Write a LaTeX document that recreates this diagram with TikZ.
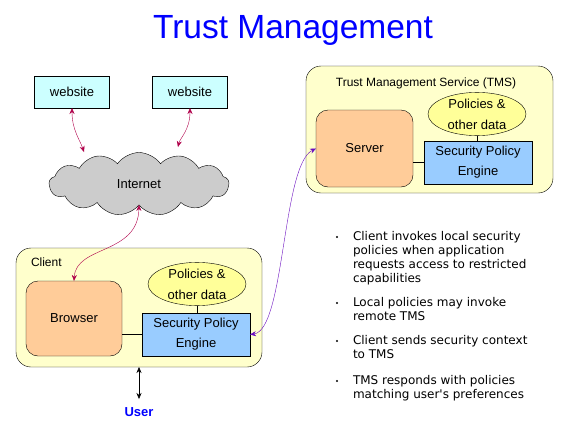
\documentclass[tikz,border=0pt]{standalone}
\usepackage{fontspec}
\setmainfont{Liberation Sans}
\newfontfamily\bulletfont{DejaVu Sans}
\usetikzlibrary{shapes.symbols,shapes.geometric,arrows.meta}
\definecolor{crim}{HTML}{B0004A}
\definecolor{purp}{HTML}{6A0DC0}
\definecolor{cyanbox}{HTML}{CCFFFF}
\definecolor{yelbox}{HTML}{FFFFCC}
\definecolor{orbox}{HTML}{FFCC99}
\definecolor{bluebox}{HTML}{99CCFF}
\definecolor{ellfill}{HTML}{FFFF99}
\definecolor{cloudfill}{HTML}{CCCCCC}
\begin{document}
\begin{tikzpicture}[x=1pt,y=-1pt,
  every node/.style={font=\fontsize{13}{15}\selectfont, inner sep=0pt, outer sep=0pt},
  webbox/.style={draw, fill=cyanbox, minimum width=75pt, minimum height=32pt},
  groupbox/.style={draw, fill=yelbox, rounded corners=15pt},
  appbox/.style={draw, fill=orbox, rounded corners=12pt},
  spebox/.style={draw, fill=bluebox, align=center, font=\fontsize{13}{20}\selectfont},
  polell/.style={draw, fill=ellfill, ellipse, minimum width=98pt, minimum height=38pt, align=center, font=\fontsize{13}{21}\selectfont},
  netarrow/.style={crim, {Stealth[length=6pt,width=5pt]}-{Stealth[length=6pt,width=5pt]}},
  tmsarrow/.style={purp, {Stealth[length=6pt,width=5pt]}-{Stealth[length=6pt,width=5pt]}},
  bullettext/.style={font=\bulletfont\fontsize{12}{14}\selectfont, align=left, anchor=north west},
]
\useasboundingbox (0,0) rectangle (571,426);
% title
\node[text=blue, font=\fontsize{33.5}{36}\selectfont] (title) at (293,30) {Trust Management};
% websites
\node[webbox] (web1) at (72,92) {website};
\node[webbox] (web2) at (190,92) {website};
% cloud
\node[cloud, draw, fill=cloudfill, cloud puffs=13, cloud puff arc=110, minimum width=180pt, minimum height=63pt, aspect=2.8] (net) at (139,184) {Internet};
% client group
\node[groupbox, minimum width=246pt, minimum height=119pt] (client) at (139,307.5) {};
\node[anchor=west, font=\fontsize{12}{14}\selectfont] (clientlbl) at (31,262) {Client};
\node[appbox, minimum width=96pt, minimum height=75pt] (browser) at (74,318.5) {Browser};
\node[polell] (pol1) at (197,284) {Policies \&\\other data};
\node[spebox, minimum width=108pt, minimum height=43pt] (spe1) at (196,334.5) {Security Policy\\Engine};
\draw (browser.east |- spe1.west) -- (spe1.west);
\draw (pol1.south) -- (pol1.south |- spe1.north);
% TMS group
\node[groupbox, minimum width=247pt, minimum height=127pt] (tms) at (429.5,129.5) {};
\node[font=\fontsize{12}{14}\selectfont] (tmslbl) at (426,83) {Trust Management Service (TMS)};
\node[appbox, minimum width=97pt, minimum height=77pt] (server) at (364.5,148.5) {Server};
\node[polell, minimum height=34pt] (pol2) at (477,114) {Policies \&\\other data};
\node[spebox, minimum width=108pt, minimum height=43pt] (spe2) at (478,162.5) {Security Policy\\Engine};
\draw (server.east |- spe2.west) -- (spe2.west);
\draw (pol2.south) -- (pol2.south |- spe2.north);
% user
\node[text=blue, font=\bfseries\fontsize{13}{15}\selectfont] (user) at (139,412) {User};
\coordinate (userend) at (139,399);
\draw[{Stealth[length=6pt,width=5pt]}-{Stealth[length=6pt,width=5pt]}] (client.south) -- (userend);
% network arrows
\coordinate (c1) at (84,152);
\coordinate (c2) at (178,147);
\draw[netarrow] (web1.south) .. controls (72,130) and (80,140) .. (c1);
\draw[netarrow] (web2.south) .. controls (190,130) and (180,138) .. (c2);
\draw[netarrow] (net.south) .. controls (138,255) and (76,245) .. (browser.north);
% TMS arrow
\draw[tmsarrow] (spe1.east) .. controls (285,330) and (282,165) .. (server.west);
% bullets
\node[bullettext] (b1) at (353,231) {Client invokes local security\\policies when application\\requests access to restricted\\capabilities};
\node[bullettext] (b2) at (353,297) {Local policies may invoke\\remote TMS};
\node[bullettext] (b3) at (353,335) {Client sends security context\\to TMS};
\node[bullettext] (b4) at (353,375) {TMS responds with policies\\matching user's preferences};
\fill (337,237) circle (1.1pt);
\fill (337,303) circle (1.1pt);
\fill (337,341) circle (1.1pt);
\fill (337,381) circle (1.1pt);
\end{tikzpicture}
\end{document}
